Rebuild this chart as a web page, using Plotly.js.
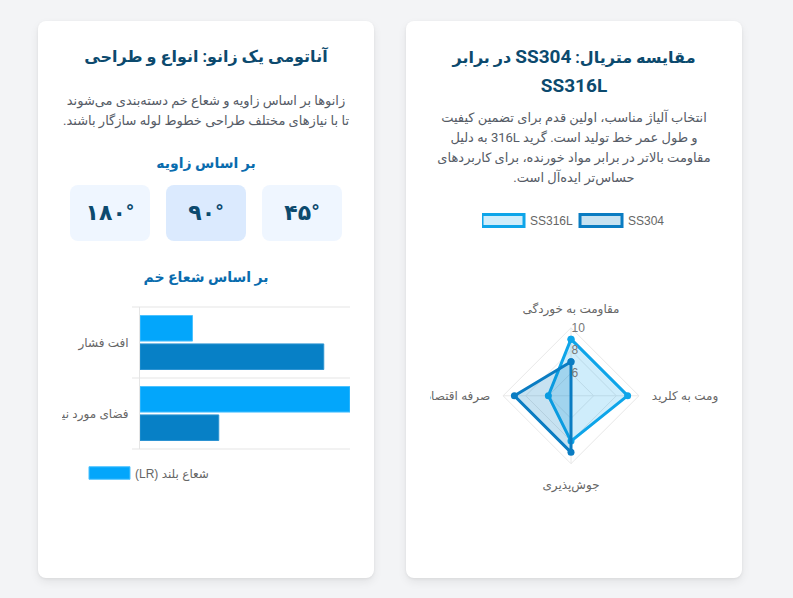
<!DOCTYPE html>
<html>
<head>
<meta charset="utf-8">
<script src="https://cdn.plot.ly/plotly-3.0.1.min.js"></script>
<style>
  html, body { margin: 0; padding: 0; }
  body { width: 793px; height: 598px; overflow: hidden; background: #f3f4f6; font-family: "Roboto", "DejaVu Sans", sans-serif; position: relative; }
  .card { position: absolute; top: 21px; width: 336px; height: 557px; background: #ffffff; border-radius: 8px;
          box-shadow: 0 4px 10px rgba(0,0,0,0.07), 0 1px 3px rgba(0,0,0,0.06); }
  .txt { position: absolute; left: 0; width: 100%; text-align: center; direction: rtl; white-space: nowrap; }
  .title { font-size: 16px; font-weight: bold; color: #0c4a6e; line-height: 28px; top: 22px; }
  .title .lat { font-size: 19px; }
  .desc { font-size: 13px; color: #555b66; line-height: 19.5px; }
  .sub { font-size: 14px; font-weight: bold; color: #0a6cae; line-height: 22px; }
  .ang { position: absolute; top: 164px; width: 80px; height: 56px; border-radius: 8px; background: #eff6ff;
         font-size: 22px; font-weight: bold; color: #0c4a6e; line-height: 56px; text-align: center; direction: rtl; }
  .ang.mid { background: #dbeafe; }
  #bar { position: absolute; left: 62px; top: 295px; width: 288px; height: 200px; }
  #radar { position: absolute; left: 430px; top: 200px; width: 288px; height: 300px; }
</style>
</head>
<body>
<div class="card" style="left:38px;">
  <div class="txt title">آناتومی یک زانو: انواع و طراحی</div>
  <div class="txt desc" style="top:70px;">زانوها بر اساس زاویه و شعاع خم دسته‌بندی می‌شوند<br>تا با نیازهای مختلف طراحی خطوط لوله سازگار باشند.</div>
  <div class="txt sub" style="top:131px;">بر اساس زاویه</div>
  <div class="ang" style="left:224px;">۴۵°</div>
  <div class="ang mid" style="left:128px;">۹۰°</div>
  <div class="ang" style="left:32px;">۱۸۰°</div>
  <div class="txt sub" style="top:245px;">بر اساس شعاع خم</div>
</div>
<div class="card" style="left:406px;">
  <div class="txt title">مقایسه متریال: <span class="lat">SS304</span> در برابر<br><span class="lat">SS316L</span></div>
  <div class="txt desc" style="top:87px; line-height:20px;">انتخاب آلیاژ مناسب، اولین قدم برای تضمین کیفیت<br>و طول عمر خط تولید است. گرید 316L به دلیل<br>مقاومت بالاتر در برابر مواد خورنده، برای کاربردهای<br>حساس‌تر ایده‌آل است.</div>
</div>
<div id="bar"></div>
<div id="radar"></div>

<script>
// ---------- data: bend radius bar chart ----------
const bendCategories = ['افت فشار', 'فضای مورد نیاز'];
const lrName = 'شعاع بلند (LR)';
const srName = 'شعاع کوتاه (SR)';
const lrValues = [2, 8];
const srValues = [7, 3];
const bendAxisMax = 8;

// ---------- data: material radar chart ----------
const radarAxes = ['مقاومت به خوردگی', 'مقاومت به کلرید', 'جوش‌پذیری', 'صرفه اقتصادی'];
const ss316lValues = [9, 9, 8, 6];
const ss304Values = [7, 4, 9, 9];
const radialRange = [4, 10];
const radialTicks = [6, 8, 10];

const chartFont = { family: 'Liberation Sans, Arial, DejaVu Sans, sans-serif', size: 12, color: '#666666' };
const RLE = '\u202B', PDF = '\u202C';

// turn Plotly legend symbols into Chart.js-like wide boxes placed just before the text
function boxLegend(gd, boxW, boxH, gap, pickPath, applyTo) {
  gd.querySelectorAll('.legend .traces').forEach(t => {
    const text = t.querySelector('text.legendtext');
    const ref = pickPath(t);
    if (!text || !ref) return;
    const tr = text.getBoundingClientRect();
    const bb = ref.getBBox();
    const rr = ref.getBoundingClientRect();
    const offset = rr.left - bb.x;
    const right = tr.left - gap - offset;
    const left = right - boxW;
    const d = `M${left},${-boxH / 2}H${right}V${boxH / 2}H${left}Z`;
    applyTo(t).forEach(p => p.setAttribute('d', d));
  });
}

// ---------- bar chart ----------
const gridColor = '#e5e5e5';
const boundaryShapes = [];
for (let i = 0; i <= bendCategories.length; i++) {
  boundaryShapes.push({ type: 'line', xref: 'paper', yref: 'paper', x0: -0.038, x1: 1,
    y0: i / bendCategories.length, y1: i / bendCategories.length, line: { color: gridColor, width: 1 }, layer: 'below' });
}

Plotly.newPlot('bar', [
  { type: 'bar', orientation: 'h', y: bendCategories, x: lrValues, name: RLE + lrName + PDF,
    marker: { color: '#03a6fb', line: { color: '#4cc2ff', width: 1 } }, hoverinfo: 'none' },
  { type: 'bar', orientation: 'h', y: bendCategories, x: srValues, name: RLE + srName + PDF, showlegend: false,
    marker: { color: '#0780c6', line: { color: '#2b93d1', width: 1 } }, hoverinfo: 'none' }
], {
  width: 288, height: 200,
  margin: { l: 78, r: 0, t: 12, b: 46 },
  paper_bgcolor: 'rgba(0,0,0,0)', plot_bgcolor: 'rgba(0,0,0,0)',
  font: chartFont,
  barmode: 'group', bargap: 0.2, bargroupgap: 0.1,
  xaxis: { range: [0, bendAxisMax], showticklabels: false, showgrid: false, zeroline: false, showline: false, fixedrange: true },
  yaxis: { autorange: 'reversed', showgrid: false, zeroline: false, showline: true, linecolor: gridColor,
           ticks: 'outside', ticklen: 8, tickcolor: 'rgba(0,0,0,0)', tickfont: chartFont, fixedrange: true },
  shapes: boundaryShapes,
  showlegend: true,
  legend: { orientation: 'h', itemwidth: 38, x: -0.2524, xanchor: 'left', y: -0.169, yanchor: 'middle', font: chartFont, bgcolor: 'rgba(0,0,0,0)' }
}, { displayModeBar: false, staticPlot: true }).then(gd => {
  boxLegend(gd, 41, 12.5, 5,
    t => t.querySelector('.legendpoints path'),
    t => Array.from(t.querySelectorAll('.legendpoints path')));
});

// ---------- radar chart ----------
const closedTheta = radarAxes.concat([radarAxes[0]]);
function closed(v) { return v.concat([v[0]]); }

Plotly.newPlot('radar', [
  { type: 'scatterpolar', name: 'SS316L', theta: closedTheta, r: closed(ss316lValues), fill: 'toself',
    fillcolor: 'rgba(14,165,233,0.2)', mode: 'lines+markers',
    line: { color: '#0ea5e9', width: 3 }, marker: { color: '#0ea5e9', size: 7 }, hoverinfo: 'none' },
  { type: 'scatterpolar', name: 'SS304', theta: closedTheta, r: closed(ss304Values), fill: 'toself',
    fillcolor: 'rgba(2,122,190,0.22)', mode: 'lines+markers',
    line: { color: '#0a7cc2', width: 3 }, marker: { color: '#0a7cc2', size: 7 }, hoverinfo: 'none' }
], {
  width: 288, height: 300,
  margin: { l: 0, r: 0, t: 0, b: 0 },
  paper_bgcolor: 'rgba(0,0,0,0)',
  font: chartFont,
  showlegend: true,
  legend: { orientation: 'h', itemwidth: 38, entrywidth: 45, x: 0.1806, xanchor: 'left', y: 0.98, yanchor: 'top', font: chartFont, bgcolor: 'rgba(0,0,0,0)' },
  polar: {
    domain: { x: [0.2535, 0.7257], y: [0.121, 0.574] },
    bgcolor: 'rgba(0,0,0,0)',
    gridshape: 'linear',
    radialaxis: { range: radialRange, tickvals: radialTicks, angle: 90, tickangle: 90, showline: false, ticks: '',
                  tickfont: { family: chartFont.family, size: 12, color: '#777' }, gridcolor: '#e8e8e8' },
    angularaxis: { rotation: 90, direction: 'clockwise', gridcolor: '#e8e8e8', linecolor: '#e8e8e8',
                   ticks: 'outside', ticklen: 10, tickcolor: 'rgba(0,0,0,0)', tickfont: chartFont }
  }
}, { displayModeBar: false, staticPlot: true }).then(gd => {
  boxLegend(gd, 42, 12, 6,
    t => t.querySelector('.legendfill path'),
    t => Array.from(t.querySelectorAll('.legendfill path, .legendlines path')));
  gd.querySelectorAll('.legend .legendlines path').forEach(p => { p.style.fill = 'none'; });
  gd.querySelectorAll('.legend .legendpoints').forEach(g => { g.style.display = 'none'; });
});
</script>
</body>
</html>
